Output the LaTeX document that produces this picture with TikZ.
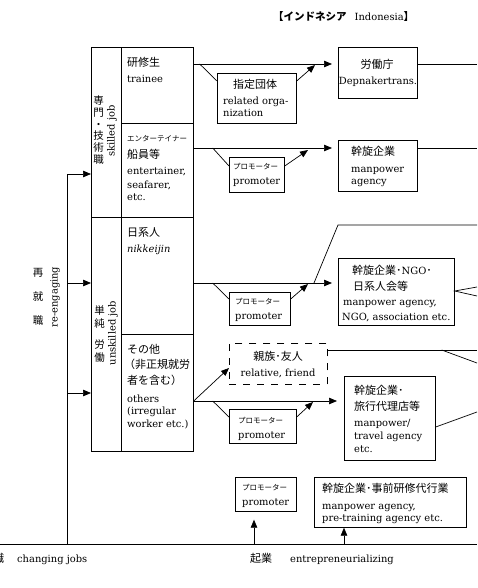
\documentclass[tikz,border=0pt]{standalone}
\usepackage{fontspec}
\setmainfont{DejaVu Serif}
\newfontfamily\jp{Noto Sans CJK JP}
\usetikzlibrary{arrows.meta,calc}
\tikzset{
  box/.style={draw, line width=0.7pt, inner sep=0pt, anchor=north west},
  dbox/.style={box, dash pattern=on 7pt off 7pt},
  ln/.style={line width=0.7pt},
  arr/.style={-{Triangle[length=8pt,width=6.5pt]}},
  la/.style={font=\fontsize{9.9}{11}\selectfont, inner sep=0pt, anchor=base west},
  jt/.style={font=\jp\fontsize{11}{13}\selectfont, inner sep=0pt, anchor=base west},
  jk/.style={font=\jp\fontsize{7.5}{9}\selectfont, inner sep=0pt, anchor=base west},
}
\begin{document}
\begin{tikzpicture}[x=1pt,y=-1pt]
\useasboundingbox (0,0) rectangle (477,588);

% title
\node[inner sep=0pt, anchor=base west] (title) at (273,21)
  {{\jp\bfseries\fontsize{10.5}{12}\selectfont 【インドネシア}\hspace{8pt}{\fontsize{9.9}{11}\selectfont Indonesia}{\jp\bfseries\fontsize{10.5}{12}\selectfont 】}};

% left category column
\node[box, minimum width=30pt, minimum height=170pt] (skill) at (91,47) {};
\node[box, minimum width=30pt, minimum height=234pt] (unskill) at (91,217) {};
\node[box, minimum width=72pt, minimum height=76pt] (trainee) at (121,47) {};
\node[box, minimum width=72pt, minimum height=94pt] (enter) at (121,123) {};
\node[box, minimum width=72pt, minimum height=117pt] (nikkei) at (121,217) {};
\node[box, minimum width=72pt, minimum height=117pt] (others) at (121,334) {};

% vertical labels
\node[font=\jp\fontsize{10.5}{11.8}\selectfont, align=center, inner sep=0pt] (skillj) at (98.5,130) {専\\門\\・\\技\\術\\職};
\node[font=\fontsize{9.9}{11}\selectfont, rotate=90, inner sep=0pt] (skille) at (112,131) {skilled job};
\node[font=\jp\fontsize{10.5}{13.5}\selectfont, align=center, inner sep=0pt] (unskillj) at (99.5,334) {単\\純\\[7pt]労\\働};
\node[font=\fontsize{9.9}{11}\selectfont, rotate=90, inner sep=0pt] (unskille) at (113,333) {unskilled job};
\node[font=\jp\fontsize{10.5}{24}\selectfont, align=center, inner sep=0pt] (reenj) at (38,297) {再\\就\\職};
\node[font=\fontsize{9.9}{11}\selectfont, rotate=90, inner sep=0pt] (reene) at (55,297) {re-engaging};

% cell texts
\node[jt] (t1) at (127,67) {研修生};
\node[la] (t2) at (127,83) {trainee};
\node[jk] (e1) at (127,142) {エンターテイナー};
\node[jt] (e2) at (127,159) {船員等};
\node[la] (e3) at (127,175) {entertainer,};
\node[la] (e4) at (127,188) {seafarer,};
\node[la] (e5) at (127,200) {etc.};
\node[jt] (n1) at (127,236) {日系人};
\node[la, font=\fontsize{9.9}{11}\selectfont\itshape] (n2) at (127,252) {nikkeijin};
\node[jt] (o1) at (127,353) {その他};
\node[jt] (o2) at (124,368) {（非正規就労};
\node[jt] (o3) at (127,384) {者を含む）};
\node[la] (o4) at (127,402) {others};
\node[la] (o5) at (127,414) {(irregular};
\node[la] (o6) at (127,427) {worker etc.)};

% right boxes
\node[box, minimum width=79pt, minimum height=51pt] (labor) at (338,47) {};
\node[box, minimum width=79pt, minimum height=50pt] (org) at (217,73) {};
\node[box, minimum width=55pt, minimum height=35pt] (prom1) at (229,157) {};
\node[box, minimum width=79pt, minimum height=51pt] (agency1) at (338,140) {};
\node[box, minimum width=61pt, minimum height=33pt] (prom2) at (229,292) {};
\node[box, minimum width=116pt, minimum height=67pt] (ngo) at (338,258) {};
\node[dbox, minimum width=98pt, minimum height=41pt] (friend) at (229,343) {};
\node[box, minimum width=67pt, minimum height=34pt] (prom3) at (229,409) {};
\node[box, minimum width=91pt, minimum height=84pt] (travel) at (344,376) {};
\node[box, minimum width=61pt, minimum height=34pt] (prom4) at (235,477) {};
\node[box, minimum width=152pt, minimum height=50pt] (pretrain) at (314,477) {};

% right box texts
\node[jt, anchor=base] (l1) at (377,69) {労働庁};
\node[la, anchor=base] (l2) at (378,85) {Depnakertrans.};
\node[jt] (g1) at (233,89) {指定団体};
\node[la] (g2) at (223,105) {related orga-};
\node[la] (g3) at (223,117) {nization};
\node[jk] (p1a) at (233,169) {プロモーター};
\node[la] (p1b) at (233,184) {promoter};
\node[jt] (a1) at (351,156) {幹旋企業};
\node[la] (a2) at (351,172) {manpower};
\node[la] (a3) at (351,184) {agency};
\node[jk] (p2a) at (235,304) {プロモーター};
\node[la] (p2b) at (235,319) {promoter};
\node[jt] (g4) at (352,274) {幹旋企業･{\fontsize{9.9}{11}\selectfont\rmfamily NGO}･};
\node[jt] (g5) at (353,290) {日系人会等};
\node[la] (g6) at (343,305) {manpower agency,};
\node[la] (g7) at (342,320) {NGO, association etc.};
\node[jt, anchor=base] (f1) at (278,360) {親族･友人};
\node[la, anchor=base] (f2) at (278,376) {relative, friend};
\node[jk] (p3a) at (238,423) {プロモーター};
\node[la] (p3b) at (238,438) {promoter};
\node[jt] (v1t) at (354,394) {幹旋企業･};
\node[jt] (v2t) at (354,410) {旅行代理店等};
\node[la] (v3t) at (354,426) {manpower/};
\node[la] (v4t) at (354,439) {travel agency};
\node[la] (v5t) at (354,452) {etc.};
\node[jk] (p4a) at (242,490) {プロモーター};
\node[la] (p4b) at (242,505) {promoter};
\node[jt] (q1) at (322,492) {幹旋企業･事前研修代行業};
\node[la] (q2) at (322,509) {manpower agency,};
\node[la] (q3) at (322,521) {pre-training agency etc.};

% bottom labels
\node[jt] (b1) at (-7,562) {職};
\node[la] (b2) at (17,562) {changing jobs};
\node[jt] (b3) at (250,562) {起業};
\node[la] (b4) at (290,562) {entrepreneurializing};

% edge coordinates
\coordinate (e1) at (477,64);
\coordinate (e2) at (477,148);
\coordinate (e3) at (477,225);
\coordinate (e4) at (477,287);
\coordinate (e5) at (477,296);
\coordinate (e6) at (477,350);
\coordinate (e7) at (477,363);
\coordinate (e8) at (477,412);
\coordinate (vt) at (67,174);
\coordinate (vb) at (67,544);
\coordinate (bl) at (0,544);
\coordinate (br) at (477,544);

% row 1: trainee
\draw[ln,arr] ($(trainee.north east)+(0,17)$) -- ($(labor.north west)+(-6,17)$);
\draw[ln] ($(trainee.north east)+(6,17)$) -- ($(org.north west)+(0,8)$);
\draw[ln,arr] ($(org.north east)+(0,8)$) -- ($(labor.north west)+(-23,18)$);
\draw[ln] ($(labor.north west)+(79,17)$) -- (e1);

% row 2: entertainer
\draw[ln,arr] ($(enter.north east)+(0,25)$) -- ($(agency1.north west)+(-6,8)$);
\draw[ln] ($(enter.north east)+(19,25)$) -- ($(prom1.north west)+(0,9)$);
\draw[ln,arr] ($(prom1.north east)+(0,9)$) -- ($(agency1.north west)+(-30,10)$);
\draw[ln] ($(agency1.north east)+(0,8)$) -- (e2);

% row 3: nikkeijin
\draw[ln,arr] ($(nikkei.north east)+(0,66)$) -- ($(ngo.north west)+(-6,25)$);
\draw[ln] ($(nikkei.north east)+(19,66)$) -- ($(prom2.north west)+(0,7)$);
\draw[ln,arr] ($(prom2.north east)+(0,7)$) -- ($(ngo.north west)+(-30,26)$);
\draw[ln] ($(ngo.north west)+(-24,25)$) -- ($(ngo.north west)+(0,-33)$) -- (e3);
\draw[ln] (e4) -- ($(ngo.north east)+(0,33)$) -- (e5);

% row 4: others
\draw[ln,arr] ($(others.north east)+(0,67)$) -- ($(friend.north west)+(0,25)$);
\draw[ln,arr] ($(others.north east)+(0,67)$) -- ($(travel.north west)+(-7,25)$);
\draw[ln] ($(others.north east)+(19,67)$) -- ($(prom3.north west)+(0,8)$);
\draw[ln,arr] ($(prom3.north east)+(0,8)$) -- ($(travel.north west)+(-31,26)$);
\draw[ln] ($(friend.north east)+(0,7)$) -- (e6);
\draw[ln] ($(friend.north east)+(114,7)$) -- (e7);
\draw[ln] ($(travel.north east)+(0,51)$) -- (e8);

% re-engaging loop
\draw[ln] (vt) -- (vb);
\draw[ln,arr] (vt) -- ($(skill.north west)+(0,127)$);
\draw[ln,arr] ($(vt)+(0,109)$) -- ($(unskill.north west)+(0,66)$);
\draw[ln,arr] ($(vt)+(0,219)$) -- ($(unskill.north west)+(0,176)$);

% bottom line
\draw[ln] (bl) -- (br);
\draw[ln,arr] ($(bl)+(254,0)$) -- ($(prom4.south west)+(19,8)$);
\draw[ln,arr] ($(bl)+(344,0)$) -- ($(pretrain.south west)+(30,0)$);
\end{tikzpicture}
\end{document}
